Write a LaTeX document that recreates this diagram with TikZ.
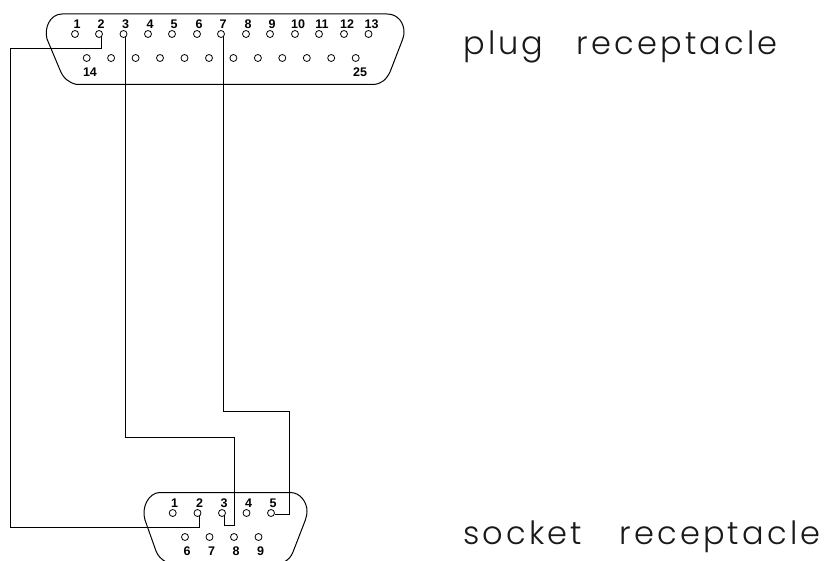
\documentclass[tikz,border=0pt]{standalone}
\usepackage{fontspec}
\setmainfont{Liberation Sans}
\newfontfamily\titlefont[LetterSpace=10]{Poppins Light}
\tikzset{
  pin/.style={circle,draw,line width=0.8pt,minimum size=7pt,inner sep=0pt},
  num/.style={font=\fontsize{12.5}{12.5}\selectfont\bfseries,inner sep=0pt,anchor=base},
  shell/.style={line width=1pt},
  wire/.style={line width=1pt},
  title/.style={font=\titlefont\fontsize{32}{32}\selectfont,color=black!90,inner sep=0pt,anchor=base west},
}
\begin{document}
\begin{tikzpicture}[x=1pt,y=-1pt]
\useasboundingbox (0,0) rectangle (826,561);
% plug shell
\draw[shell] (62,14) -- (387,14) .. controls (398,14) and (404,23) .. (404,32)
  .. controls (404,36) and (403,38) .. (402,41) -- (390,72) .. controls (386,80) and (381,84.5) .. (372,84.5)
  -- (77,84.5) .. controls (69,83) and (63,78) .. (60,70) -- (47,39) .. controls (44,28) and (50,14) .. (62,14);
% plug pins
\foreach \n/\x/\d in {1/75/2,2/99/2,3/123.5/2,4/148/2,5/172/2,6/197/2,7/221/2,8/246/2,9/270/2,10/295/3,11/319/3,12/344/3,13/368.5/3}{
  \node[pin] (p\n) at (\x,34) {};
  \node[num] (pl\n) at (\x+\d,29) {\n};
}
\foreach \n/\x in {14/86.7,15/111.1,16/135.6,17/160,18/184.5,19/209,20/233.4,21/257.9,22/282.3,23/306.8,24/331.2,25/355.7}{
  \node[pin] (p\n) at (\x,58) {};
}
\node[num] (pl14) at (90,77) {14};
\node[num] (pl25) at (360,77) {25};
% socket shell
\draw[shell] (160,492.5) -- (290,492.5) .. controls (301,492.5) and (307,503) .. (307,511)
  .. controls (307,515) and (306,518) .. (305,521) -- (293,552) .. controls (291,557) and (288,560) .. (284,562)
  (166,562) .. controls (161,559) and (158,556) .. (156,551) -- (145,520) .. controls (141,507) and (149,492.5) .. (160,492.5);
% socket pins
\foreach \n/\x in {1/172.7,2/197.5,3/222,4/246.5,5/271}{
  \node[pin] (s\n) at (\x,513) {};
  \node[num] (sl\n) at (\x+2,507) {\n};
}
\foreach \n/\x in {6/185,7/209.5,8/234,9/258.5}{
  \node[pin] (s\n) at (\x,537) {};
  \node[num] (sl\n) at (\x+2,555) {\n};
}
% wire corners
\coordinate (a2) at (10.5,48.5);
\coordinate (a3) at (10.5,527);
\coordinate (a1) at (p2.-55 |- a2);
\coordinate (a4) at (s2.-55 |- a3);
\coordinate (b2) at (234.5,437);
\coordinate (b3) at (234.5,525);
\coordinate (b1) at (p3.-55 |- b2);
\coordinate (b4) at (s3.-55 |- b3);
\coordinate (c2) at (289,411);
\coordinate (c1) at (p7.-55 |- c2);
\coordinate (c3) at (c2 |- s5.-15);
\draw[wire] (p2.-55) -- (a1) -- (a2) -- (a3) -- (a4) -- (s2.-55);
\draw[wire] (p3.-55) -- (b1) -- (b2) -- (b3) -- (b4) -- (s3.-55);
\draw[wire] (p7.-55) -- (c1) -- (c2) -- (c3) -- (s5.-15);
% titles
\node[title] (t1) at (463,55) {plug\hspace{33pt}receptacle};
\node[title] (t2) at (463,544) {socket\hspace{37pt}receptacle};
\end{tikzpicture}
\end{document}
